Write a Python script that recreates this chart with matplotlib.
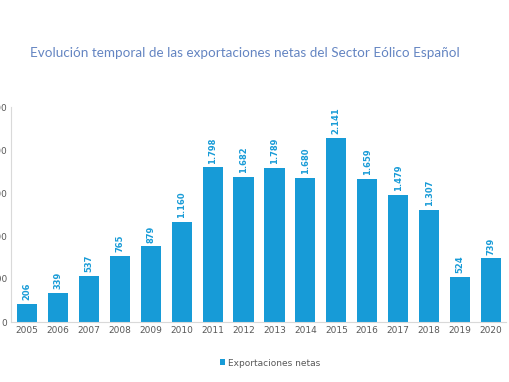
import matplotlib.pyplot as plt
import numpy as np

# datos del gráfico
years = ["2005", "2006", "2007", "2008", "2009", "2010", "2011", "2012",
         "2013", "2014", "2015", "2016", "2017", "2018", "2019", "2020"]
exports = [206, 339, 537, 765, 879, 1160, 1798, 1682,
           1789, 1680, 2141, 1659, 1479, 1307, 524, 739]
y_ticks = [0, 500, 1000, 1500, 2000, 2500]

bar_color = "#179bd7"
text_gray = "#595959"

def fmt_es(v):
    # separador de miles con punto
    return f"{v:,}".replace(",", ".")

fig = plt.figure(figsize=(5.1, 3.82), dpi=100)
ax = fig.add_axes([11.5 / 510, 60 / 382, 495 / 510, 215 / 382])

x = np.arange(len(years))
ax.bar(x, exports, width=0.65, color=bar_color, label="Exportaciones netas")

for xi, v in zip(x, exports):
    ax.text(xi, v + 45, fmt_es(v), rotation=90, ha="center", va="bottom",
            fontsize=6, color=bar_color, fontweight="semibold")

ax.set_xlim(-0.5, len(years) - 0.5)
ax.set_ylim(0, 2500)
ax.set_xticks(x)
ax.set_xticklabels(years, fontsize=6.5, color=text_gray)
ax.set_yticks(y_ticks)
ax.set_yticklabels([fmt_es(t) for t in y_ticks], fontsize=6.5, color=text_gray)
ax.tick_params(length=0, pad=3)

for s in ["top", "right"]:
    ax.spines[s].set_visible(False)
ax.spines["left"].set_color("#d9d9d9")
ax.spines["bottom"].set_color("#d9d9d9")

fig.text(245 / 510, 1 - 53 / 382, "Evolución temporal de las exportaciones netas del Sector Eólico Español",
         ha="center", va="center", fontsize=9.7, color="#6485c2", family="Lato")

fig.legend(loc="center", bbox_to_anchor=(270 / 510, 1 - 363 / 382), frameon=False,
           fontsize=6.5, handlelength=0.6, handleheight=0.6, handletextpad=0.3,
           labelcolor=text_gray)

fig.savefig("out.png", dpi=100)
